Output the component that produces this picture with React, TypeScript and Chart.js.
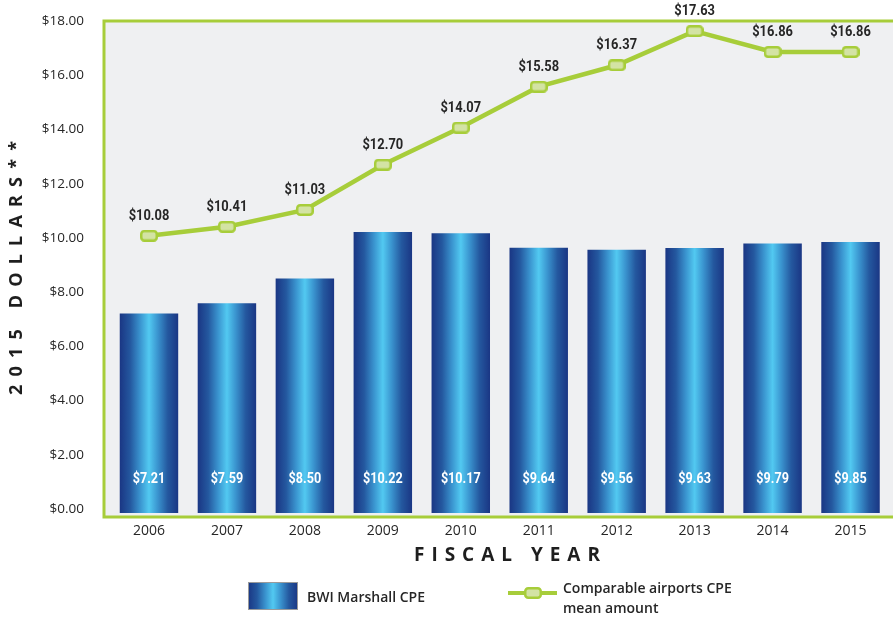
import React, { useEffect, useRef } from "react";
import { Chart, registerables } from "chart.js";

Chart.register(...registerables);

const years = ["2006", "2007", "2008", "2009", "2010", "2011", "2012", "2013", "2014", "2015"];
const bwiCPE = [7.21, 7.59, 8.5, 10.22, 10.17, 9.64, 9.56, 9.63, 9.79, 9.85];
const comparableCPE = [10.08, 10.41, 11.03, 12.7, 14.07, 15.58, 16.37, 17.63, 16.86, 16.86];
const yTicks = [0, 2, 4, 6, 8, 10, 12, 14, 16, 18];

const GREEN = "#a7cd3a";
const MARKER_FILL = "#d3e3a4";
const PLOT_BG = "#eff0f2";
const TEXT = "#262626";
const BAR_PCT = 0.75;
const SHIFT = 13; // canvas is moved up by this many px inside the page

function makeMarker(): HTMLCanvasElement {
  const c = document.createElement("canvas");
  c.width = 18;
  c.height = 12;
  const g = c.getContext("2d")!;
  g.beginPath();
  (g as any).roundRect(1.25, 1.25, 15.5, 9.5, 3);
  g.fillStyle = MARKER_FILL;
  g.fill();
  g.lineWidth = 2.5;
  g.strokeStyle = GREEN;
  g.stroke();
  return c;
}

function barGradient(ctx: CanvasRenderingContext2D, x0: number, x1: number) {
  const gr = ctx.createLinearGradient(x0, 0, x1, 0);
  gr.addColorStop(0, "#1a3684");
  gr.addColorStop(0.18, "#24589f");
  gr.addColorStop(0.35, "#3a94cf");
  gr.addColorStop(0.5, "#52c9f1");
  gr.addColorStop(0.65, "#3a94cf");
  gr.addColorStop(0.82, "#24589f");
  gr.addColorStop(1, "#1a3684");
  return gr;
}

function drawSpaced(ctx: CanvasRenderingContext2D, text: string, cx: number, cy: number, targetWidth: number) {
  (ctx as any).letterSpacing = "0px";
  const w0 = ctx.measureText(text).width;
  const sp = Math.max(0, (targetWidth - w0) / (text.length - 1));
  (ctx as any).letterSpacing = sp + "px";
  ctx.textAlign = "left";
  ctx.textBaseline = "middle";
  ctx.fillText(text, cx - targetWidth / 2, cy);
  (ctx as any).letterSpacing = "0px";
}

function drawCondensed(ctx: CanvasRenderingContext2D, text: string, x: number, y: number, sx: number) {
  ctx.save();
  ctx.translate(x, y);
  ctx.scale(sx, 1);
  ctx.textAlign = "center";
  ctx.textBaseline = "middle";
  ctx.fillText(text, 0, 0);
  ctx.restore();
}

export default function App() {
  const ref = useRef<HTMLCanvasElement>(null);

  useEffect(() => {
    if (!ref.current) return;
    const marker = makeMarker();

    const decorPlugin = {
      id: "decor",
      beforeDraw(chart: any) {
        const { ctx, chartArea } = chart;
        ctx.save();
        ctx.fillStyle = "#ffffff";
        ctx.fillRect(0, 0, chart.width, chart.height);
        ctx.fillStyle = PLOT_BG;
        const l = chartArea.left - 6;
        ctx.fillRect(l, chartArea.top, chart.width - l, chartArea.bottom - chartArea.top);
        ctx.restore();
      },
      beforeDatasetsDraw(chart: any) {
        const { ctx, chartArea } = chart;
        const l = chartArea.left - 6;
        ctx.save();
        ctx.strokeStyle = GREEN;
        ctx.lineWidth = 3;
        ctx.beginPath();
        ctx.moveTo(chart.width + 5, chartArea.top);
        ctx.lineTo(l, chartArea.top);
        ctx.lineTo(l, chartArea.bottom);
        ctx.lineTo(chart.width + 5, chartArea.bottom);
        ctx.stroke();
        ctx.restore();
      },
      afterDatasetsDraw(chart: any) {
        const { ctx } = chart;
        const ys = chart.scales.y;
        ctx.save();
        // bar labels
        const barMeta = chart.getDatasetMeta(1);
        ctx.font = "bold 14px Roboto, 'Open Sans', sans-serif";
        ctx.fillStyle = "#ffffff";
        barMeta.data.forEach((el: any, i: number) => {
          drawCondensed(ctx, "$" + bwiCPE[i].toFixed(2), el.x, ys.getPixelForValue(0) - 29, 0.9);
        });
        // line labels
        const lineMeta = chart.getDatasetMeta(0);
        ctx.fillStyle = TEXT;
        lineMeta.data.forEach((el: any, i: number) => {
          drawCondensed(ctx, "$" + comparableCPE[i].toFixed(2), el.x, el.y - 19.5, 0.92);
        });
        // absolute-positioned items (page coordinates)
        ctx.translate(0, SHIFT);
        ctx.fillStyle = "#1e1e1e";
        ctx.font = "bold 18px 'Open Sans', sans-serif";
        ctx.save();
        ctx.translate(17, 268);
        ctx.rotate(-Math.PI / 2);
        drawSpaced(ctx, "2015 DOLLARS**", 0, 0, 254);
        ctx.restore();
        ctx.font = "bold 19px 'Open Sans', sans-serif";
        drawSpaced(ctx, "FISCAL YEAR", 507, 556, 186);
        // legend
        const lx = 248, ly = 582, lw = 50, lh = 28;
        ctx.fillStyle = barGradient(ctx, lx, lx + lw);
        ctx.fillRect(lx, ly, lw, lh);
        ctx.strokeStyle = "#9a9a9a";
        ctx.lineWidth = 1;
        ctx.strokeRect(lx + 0.5, ly + 0.5, lw - 1, lh - 1);
        ctx.fillStyle = TEXT;
        ctx.font = "600 14px 'Open Sans', sans-serif";
        ctx.textAlign = "left";
        ctx.textBaseline = "middle";
        ctx.fillText("BWI Marshall CPE", 307, 598);
        ctx.strokeStyle = GREEN;
        ctx.lineWidth = 4;
        ctx.beginPath();
        ctx.moveTo(508, 593);
        ctx.lineTo(557, 593);
        ctx.stroke();
        ctx.drawImage(marker, 533 - 9, 593 - 6);
        ctx.fillText("Comparable airports CPE", 563, 589);
        ctx.fillText("mean amount", 563, 609);
        ctx.restore();
      },
    };

    const chart = new Chart(ref.current, {
      type: "bar",
      data: {
        labels: years,
        datasets: [
          {
            type: "line",
            label: "Comparable airports CPE mean amount",
            data: comparableCPE,
            borderColor: GREEN,
            borderWidth: 4.5,
            pointStyle: marker as any,
            pointRadius: 6,
            tension: 0,
            clip: false as any,
            order: 0,
          } as any,
          {
            type: "bar",
            label: "BWI Marshall CPE",
            data: bwiCPE,
            base: -0.15,
            barPercentage: BAR_PCT,
            categoryPercentage: 1,
            order: 1,
            backgroundColor: (c: any) => {
              const ch = c.chart;
              const xs = ch.scales && ch.scales.x;
              if (!xs || c.type !== "data" || !ch.chartArea) return "#2a6db0";
              const cx = xs.getPixelForValue(c.dataIndex);
              const w = (xs.width / years.length) * BAR_PCT;
              return barGradient(ch.ctx, cx - w / 2, cx + w / 2);
            },
          } as any,
        ],
      },
      options: {
        animation: false,
        responsive: false,
        maintainAspectRatio: false,
        layout: { padding: { left: 0, right: 6, top: 6, bottom: 0 } },
        plugins: { legend: { display: false }, tooltip: { enabled: false } },
        scales: {
          x: {
            offset: true,
            grid: { display: false, drawTicks: false },
            border: { display: false },
            ticks: {
              padding: 6,
              color: TEXT,
              font: { family: "'Open Sans', sans-serif", size: 14 },
              maxRotation: 0,
            },
            afterFit: (s: any) => {
              s.height = 102;
            },
          },
          y: {
            min: -0.3,
            max: 18,
            grid: { display: false, drawTicks: false },
            border: { display: false },
            afterBuildTicks: (s: any) => {
              s.ticks = yTicks.map((v) => ({ value: v }));
            },
            ticks: {
              padding: 26,
              color: TEXT,
              font: { family: "'Open Sans', sans-serif", size: 13.5 },
              callback: (v: any) => "$" + Number(v).toFixed(2),
            },
            afterFit: (s: any) => {
              s.width = 110;
            },
          },
        },
      },
      plugins: [decorPlugin],
    });
    return () => chart.destroy();
  }, []);

  return (
    <div style={{ position: "fixed", left: 0, top: 0, width: 893, height: 619, overflow: "hidden", background: "#fff" }}>
      <canvas
        ref={ref}
        width={900}
        height={619 + SHIFT}
        style={{ display: "block", position: "absolute", left: 0, top: -SHIFT, width: 900, height: 619 + SHIFT }}
      />
    </div>
  );
}
